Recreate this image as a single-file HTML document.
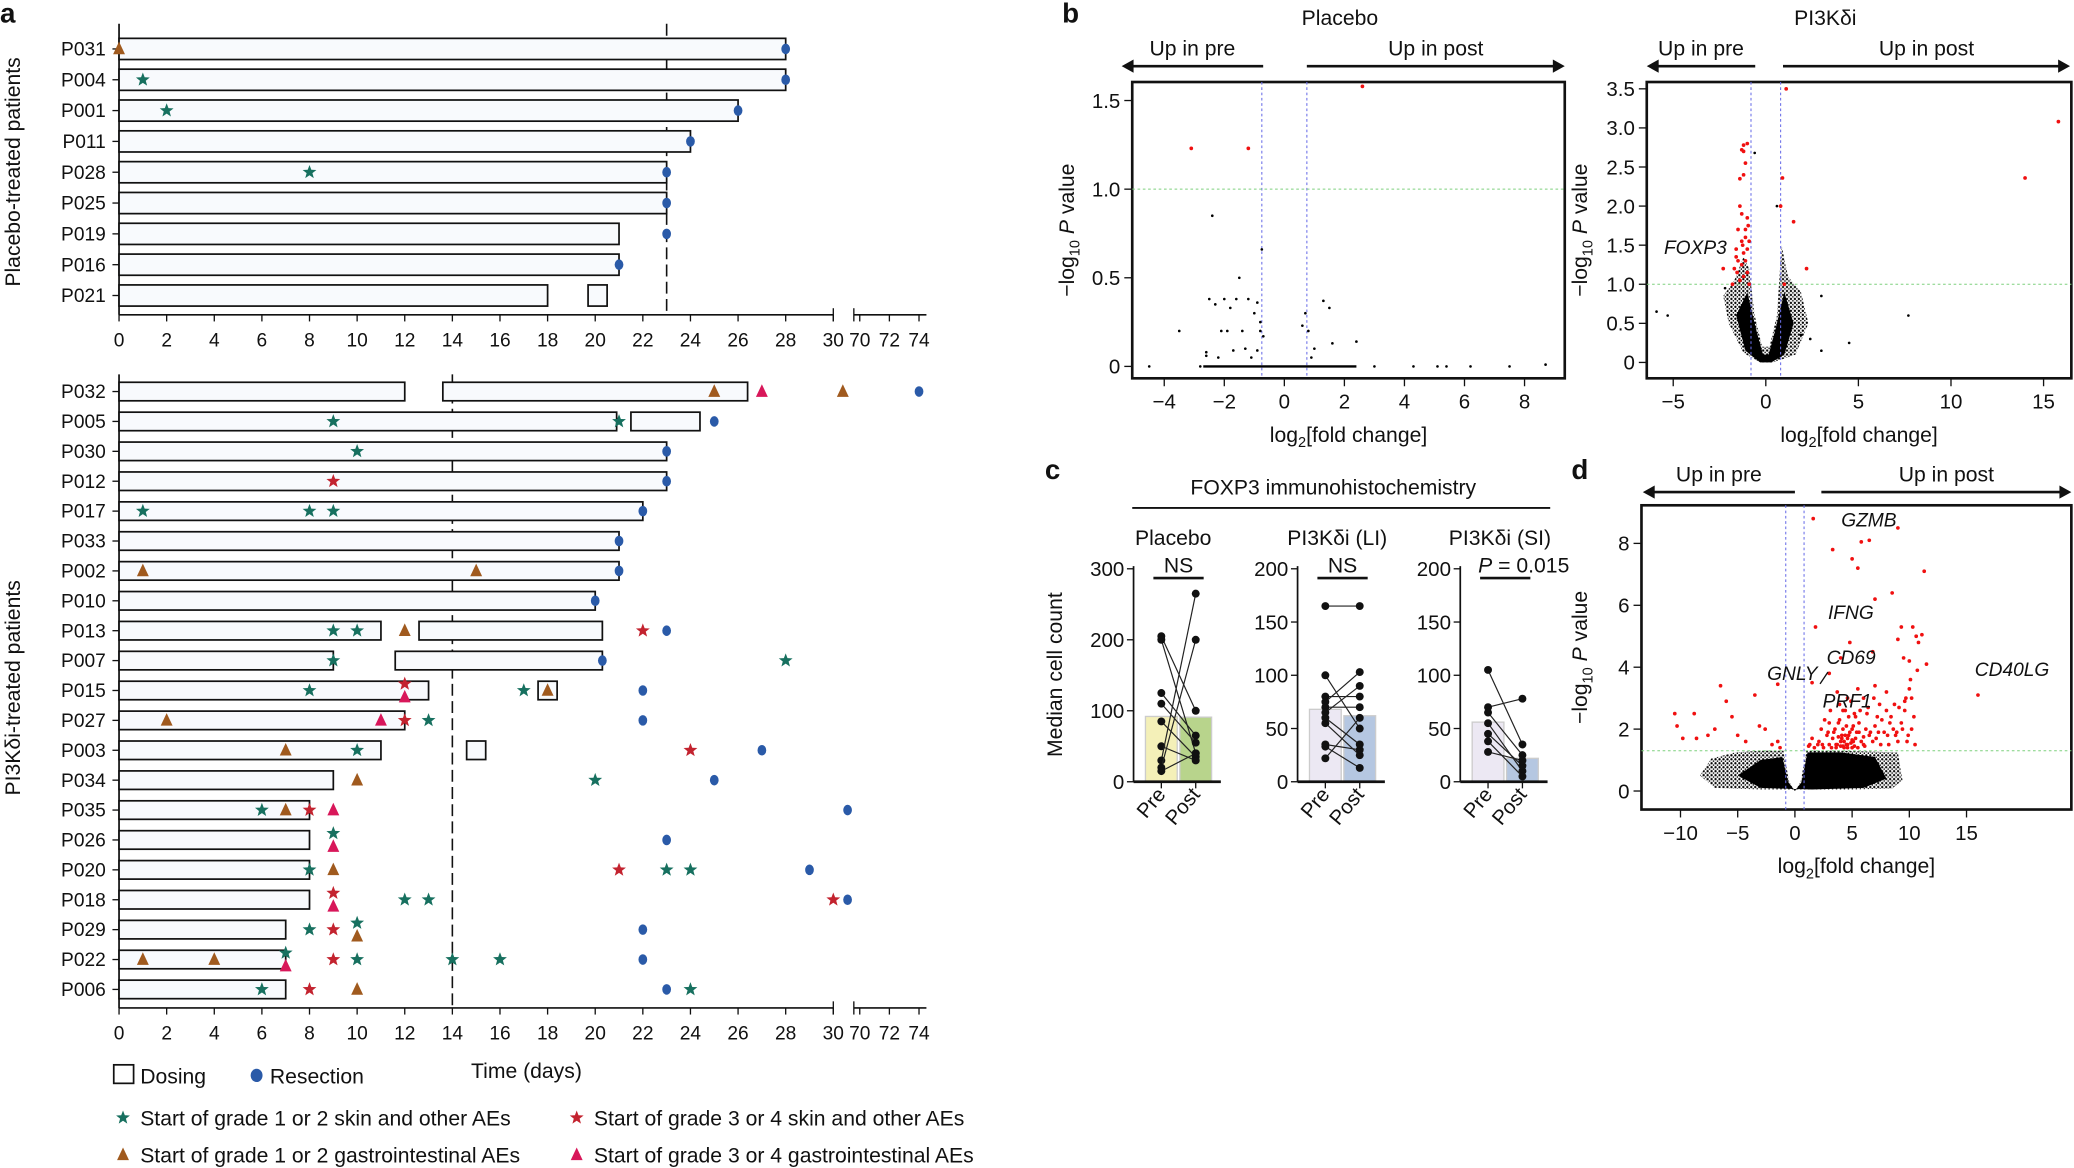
<!DOCTYPE html>
<html><head><meta charset="utf-8"><style>
html,body{margin:0;padding:0;background:#fff;}
svg{display:block;font-family:"Liberation Sans",sans-serif;}
text{fill:#111;}
</style></head><body>
<svg id="fig" width="2074" height="1168" viewBox="0 0 1568 883" preserveAspectRatio="none" xmlns="http://www.w3.org/2000/svg">
<defs>
<pattern id="speck" width="3" height="3" patternUnits="userSpaceOnUse">
<rect width="3" height="3" fill="#fff"/>
<circle cx="1" cy="1" r="0.9" fill="#000"/>
<circle cx="2.5" cy="2.4" r="0.6" fill="#000"/>
</pattern>
</defs>
<g id="static">
<text x="0" y="17" font-size="21" font-weight="bold">a</text>
<text x="803" y="17" font-size="21" font-weight="bold">b</text>
<text x="790" y="362" font-size="21" font-weight="bold">c</text>
<text x="1188" y="362" font-size="21" font-weight="bold">d</text>
<text transform="translate(15,130) rotate(-90)" text-anchor="middle" font-size="16">Placebo-treated patients</text>
<text transform="translate(15,520) rotate(-90)" text-anchor="middle" font-size="16">PI3Kδi-treated patients</text>
<text x="398" y="815" text-anchor="middle" font-size="16">Time (days)</text>
</g>
<g id="dyn"></g>
</svg>
<script>
// ---------- Panel a data ----------
const topPatients = ['P031','P004','P001','P011','P028','P025','P019','P016','P021'];
const topBars = [[[0,28]],[[0,28]],[[0,26]],[[0,24]],[[0,23]],[[0,23]],[[0,21]],[[0,21]],[[0,18],[19.7,20.5]]];
const topEvents = [[['g12gi',0,0]],[['g12skin',1,0]],[['g12skin',2,0]],[],[['g12skin',8,0]],[],[],[],[]];
const topResection = [28,28,26,24,23,23,23,21,null];
const botPatients = ['P032','P005','P030','P012','P017','P033','P002','P010','P013','P007','P015','P027','P003','P034','P035','P026','P020','P018','P029','P022','P006'];
const botRed = ['P032','P015','P003'];
const botBars = [[[0,12],[13.6,26.4]],[[0,20.9],[21.5,24.4]],[[0,23]],[[0,23]],[[0,22]],[[0,21]],[[0,21]],[[0,20]],[[0,11],[12.6,20.3]],[[0,9],[11.6,20.3]],[[0,13],[17.6,18.4]],[[0,12]],[[0,11],[14.6,15.4]],[[0,9]],[[0,8]],[[0,8]],[[0,8]],[[0,8]],[[0,7]],[[0,7]],[[0,7]]];
const botEvents = [
 [['g12gi',25,0],['g34gi',27,0],['g12gi',30.4,0]],
 [['g12skin',9,0],['g12skin',21,0]],
 [['g12skin',10,0]],
 [['g34skin',9,0]],
 [['g12skin',1,0],['g12skin',8,0],['g12skin',9,0]],
 [],
 [['g12gi',1,0],['g12gi',15,0]],
 [],
 [['g12skin',9,0],['g12skin',10,0],['g12gi',12,0],['g34skin',22,0]],
 [['g12skin',9,0],['g12skin',28,0]],
 [['g12skin',8,0],['g34skin',12,-1],['g34gi',12,1],['g12skin',17,0],['g12gi',18,0]],
 [['g12gi',2,0],['g34gi',11,0],['g34skin',12,0],['g12skin',13,0]],
 [['g12gi',7,0],['g12skin',10,0],['g34skin',24,0]],
 [['g12gi',10,0],['g12skin',20,0]],
 [['g12skin',6,0],['g12gi',7,0],['g34skin',8,0],['g34gi',9,0]],
 [['g12skin',9,-1],['g34gi',9,1]],
 [['g12skin',8,0],['g12gi',9,0],['g34skin',21,0],['g12skin',23,0],['g12skin',24,0]],
 [['g34skin',9,-1],['g34gi',9,1],['g12skin',12,0],['g12skin',13,0],['g34skin',30,0]],
 [['g12skin',8,0],['g34skin',9,0],['g12skin',10,-1],['g12gi',10,1]],
 [['g12gi',1,0],['g12gi',4,0],['g12skin',7,-1],['g34gi',7,1],['g34skin',9,0],['g12skin',10,0],['g12skin',14,0],['g12skin',16,0]],
 [['g12skin',6,0],['g34skin',8,0],['g12gi',10,0],['g12skin',24,0]]
];
const botResection = [74,25,23,23,22,21,21,20,23,20.3,22,22,27,25,30.6,23,29,30.6,22,22,23];
const xTicksA = [0,2,4,6,8,10,12,14,16,18,20,22,24,26,28,30];
const xTicksB = [70,72,74];
// ---------- Panel b data ----------
const plX = [-3.1,-1.2,2.6];
const plY = [1.23,1.23,1.58];
const plBlackX = [-4.5,-3.5,-2.4,-0.75,-1.5,-2.5,-2.3,-2.0,-1.8,-1.6,-1.2,-0.9,-0.8,-1.0,-1.4,-2.1,-2.6,-0.7,0.7,0.8,1.3,1.5,0.6,1.0,1.6,2.4,-1.3,-1.7,-2.2,-2.6,-0.8,-1.1,3.0,4.3,5.1,5.4,6.2,7.5,8.7,-1.9,-0.9,0.9,-2.8];
const plBlackY = [0,0.2,0.85,0.66,0.5,0.38,0.35,0.38,0.33,0.38,0.38,0.36,0.25,0.3,0.2,0.2,0.08,0.17,0.3,0.2,0.37,0.33,0.23,0.1,0.13,0.14,0.1,0.09,0.05,0.06,0.2,0.05,0,0,0,0,0,0,0.01,0.2,0.09,0.05,0];
const piX = [1.1,15.8,14.0,0.9,0.8,1.5,2.2,1.0,-1.2,-1.0,-1.3,-1.1,-1.2,-1.4,-1.3,-1.0,-1.5,-1.1,-1.3,-1.6,-1.2,-0.9,-1.5,-1.1,-1.7,-2.3,-1.2,-1.0,-1.4,-0.9,-1.8,-1.3,-1.1,-1.6,-1.0,-1.4,-1.2,-0.95,-1.55,-1.25];
const piY = [3.5,3.08,2.36,2.36,2.0,1.8,1.2,1.0,2.78,2.8,2.72,2.55,2.4,2.0,1.9,1.85,1.7,1.6,1.55,1.45,1.4,1.55,1.3,1.3,1.2,1.2,1.1,1.15,1.05,1.0,1.0,1.25,1.7,1.35,1.45,2.35,2.7,1.75,1.15,1.5];
const piCloudX = [-0.3,-1.2,-2.0,-2.3,-1.7,-1.2,-0.9,-0.6,-0.2,0.2,0.6,0.85,1.2,1.9,2.3,1.6,0.4];
const piCloudY = [0,0.12,0.5,0.85,1.05,1.35,1.2,0.6,0.2,0.2,0.6,1.5,1.1,0.9,0.5,0.1,0];
const piCoreX = [-0.3,-1.1,-1.6,-1.0,-0.5,-0.15,0.15,0.5,1.0,1.5,1.0,0.3];
const piCoreY = [0,0.15,0.6,0.9,0.4,0.1,0.1,0.4,0.9,0.5,0.1,0];
const piBlackX = [-5.9,-5.3,3.0,7.7,4.5,3.0,-0.6,0.6,-2.2,2.4,1.9];
const piBlackY = [0.65,0.6,0.85,0.6,0.25,0.15,2.68,2.0,0.95,0.3,0.35];
// ---------- Panel c data ----------
const cGroups = ['Placebo','PI3Kδi (LI)','PI3Kδi (SI)'];
const cMax = [300,200,200];
const cTicks = [[0,100,200,300],[0,50,100,150,200],[0,50,100,150,200]];
const cBarPre = [92,68,56];
const cBarPost = [91,62,22];
const cSig = ['NS','NS','P = 0.015'];
const cPre = [[205,200,125,110,85,50,30,20,15],[165,100,80,75,70,65,55,35,33,22,60],[105,70,65,55,45,38,28]];
const cPost = [[100,40,65,55,35,30,265,200,40],[165,50,80,103,70,90,25,30,13,60,35],[35,78,25,10,15,5,20]];
// ---------- Panel d data ----------
const dX = [1.6,9,6.5,5.8,3.3,5,11.3,5.5,8.5,7,1.8,9.3,10.3,10.6,10.8,11.1,4.8,6.8,9,4,9.5,10,11.5,16,1.5,-1.5,-6.5,-3.5,-6,-10.5,-8.8,-10.3,-5.5,-7,-7.6,-9.8,-8.6,-3.1,-2.6,-4.3,-5,-1.5,-1.3,-2,3,3.7,4.6,5.5,6,7,8,8.7,10,10.2,4.2,5.2,6.4,7.2,8,9.6,3.8,4.5,5,5.6,6.2,7,7.8,8.6,9.3,10.2,2.3,2.8,3.3,4,4.6,5.3,6,6.8,7.5,8.2,9,9.8,1.5,2,3,3.6,4.3,5,1.2,10.5,4.4,4.8,5.1,4.1,3.9,4.7,5.4,4.5,4.2,3.5,6.5,7.3,8.8,9.6,2.6,3.1,
 3.2,3.6,4.0,4.3,4.6,4.9,5.2,5.5,5.8,6.1,3.4,3.8,4.2,4.7,5.1,5.6,6.0,6.6,7.1,7.6,8.1,8.4,8.9,9.4,9.9,10.4,2.1,2.5,2.9,1.3,1.7,4.4,4.9,5.3,3.9,4.6,5.0,4.1,3.7,6.3,7.4,8.3,9.1,9.7,10.1,10.7,2.4,3.0,5.7,6.9];
const dY = [8.8,8.5,8.1,8.05,7.8,7.5,7.1,7.2,6.4,6.2,5.3,5.3,5.3,5.0,4.8,5.05,4.8,4.5,4.9,4.3,4.3,4.2,4.1,3.1,3.5,3.45,3.4,3.1,2.9,2.5,2.5,2.1,2.4,2.0,1.8,1.7,1.7,2.1,2,1.6,1.8,1.6,1.4,1.5,3.8,3.2,3.0,3.3,3.0,3.4,3.2,2.8,3.3,3.0,2.6,2.5,2.7,2.4,2.6,2.6,2.2,2.1,2.0,2.2,2.0,2.1,1.9,2.0,2.2,2.0,2.0,1.8,1.7,1.6,1.5,1.7,1.5,1.6,1.5,1.5,1.6,1.6,1.7,1.5,1.5,1.4,1.4,1.4,1.45,1.5,1.8,1.9,1.6,1.7,2.3,2.4,1.9,1.5,1.45,2.0,1.8,1.9,1.8,2.9,2.3,2.6,
 1.4,1.5,1.45,1.6,1.4,1.55,1.45,1.4,1.6,1.45,1.9,1.75,2.0,1.8,2.1,1.9,1.75,1.9,1.7,2.3,1.8,2.4,1.9,2.0,1.8,2.4,1.6,1.4,1.9,1.5,1.4,2.6,2.9,2.4,2.8,1.7,1.65,1.8,1.5,2.5,2.8,2.2,2.7,3.0,3.6,3.9,1.5,2.2,2.6,3.0];
const dCloudX = [-8.3,-7.3,-5.2,-3,-1,-0.5,0,0.5,1,4,9,9.4,8.5,5,-3,-7];
const dCloudY = [0.5,1.05,1.25,1.3,1.3,0.3,0,0.3,1.3,1.3,1.25,0.35,0.08,0.05,0.05,0.1];
const dCoreX = [-5,-3,-1.1,-0.6,0,0.6,1.1,4,7,8,6,1.5,-3];
const dCoreY = [0.5,1.0,1.1,0.3,0,0.3,1.25,1.25,1.1,0.4,0.1,0.05,0.1];

const NS='http://www.w3.org/2000/svg';
const root=document.getElementById('dyn');
function mk(tag,attrs,parent){const e=document.createElementNS(NS,tag);for(const k in attrs)e.setAttribute(k,attrs[k]);(parent||root).appendChild(e);return e;}
function txt(x,y,s,size,extra,parent){const e=mk('text',Object.assign({x:x,y:y,'font-size':size},extra||{}),parent);e.textContent=s;return e;}
function starPts(cx,cy,r){let p=[];for(let i=0;i<10;i++){const a=-Math.PI/2+i*Math.PI/5;const rr=i%2?r*0.42:r;p.push((cx+rr*Math.cos(a)).toFixed(2)+','+(cy+rr*Math.sin(a)).toFixed(2));}return p.join(' ');}
const COL={g12skin:'#17705f',g34skin:'#c3232f',g12gi:'#a05a1e',g34gi:'#d8175a',res:'#2a5aa8'};
function marker(type,x,y){
 let e;
 if(type==='g12skin'||type==='g34skin'){e=mk('polygon',{points:starPts(x,y,5.5),fill:COL[type]});}
 else if(type==='g12gi'||type==='g34gi'){e=mk('polygon',{points:`${x},${y-5.5} ${x-4.5},${y+4} ${x+4.5},${y+4}`,fill:COL[type]});}
 else {e=mk('ellipse',{cx:x,cy:y,rx:3.3,ry:4,fill:COL.res});}
 return e;
}
// ---------- Panel a ----------
function xA(d){return d<=31?90+d*18:650+(d-70)*11.2;}
function drawA(patients,bars,events,res,y0,dy,barH,axisTop,axisY,dashDay,redList){
 mk('line',{x1:90,y1:axisTop,x2:90,y2:axisY,stroke:'#111','stroke-width':1.3});
 const dl=mk('line',{x1:xA(dashDay),y1:axisTop,x2:xA(dashDay),y2:axisY,stroke:'#111','stroke-width':1.2,'stroke-dasharray':'9,4'});
 
 
 patients.forEach((p,i)=>{
  const y=y0+i*dy;
  const lab=txt(80,y+5,p,14.5,{'text-anchor':'end',fill:redList.includes(p)?'#c0272d':'#111'});
  
  
  mk('line',{x1:85,y1:y,x2:90,y2:y,stroke:'#111'});
  bars[i].forEach(b=>{
   const r=mk('rect',{x:xA(b[0]),y:y-barH/2,width:xA(b[1])-xA(b[0]),height:barH,fill:'#f8fafd',stroke:'#111','stroke-width':1.3});
   
   
  });
  if(res[i]!==null){const m=marker('res',xA(res[i]),y);
   
   }
  events[i].forEach(ev=>{const m=marker(ev[0],xA(ev[1]),y+ev[2]*5);
   
   });
 });
 mk('line',{x1:90,y1:axisY,x2:xA(30),y2:axisY,stroke:'#111','stroke-width':1.3});
 mk('line',{x1:xA(30),y1:axisY-5,x2:xA(30),y2:axisY+5,stroke:'#111'});
 mk('line',{x1:xA(69.6),y1:axisY,x2:xA(74.5),y2:axisY,stroke:'#111','stroke-width':1.3});
 mk('line',{x1:xA(69.6),y1:axisY-5,x2:xA(69.6),y2:axisY+5,stroke:'#111'});
 xTicksA.concat(xTicksB).forEach(t=>{
  mk('line',{x1:xA(t),y1:axisY,x2:xA(t),y2:axisY+5,stroke:'#111'});
  const tl=txt(xA(t),axisY+24,String(t),14.5,{'text-anchor':'middle'});
  
  
 });
}
drawA(topPatients,topBars,topEvents,topResection,37,23.3,16,18,238,23,[]);
drawA(botPatients,botBars,botEvents,botResection,296,22.6,14,283,762,14,botRed);
// legend
const lg=mk('g',{});


mk('rect',{x:86,y:805,width:15,height:14,fill:'#fff',stroke:'#111','stroke-width':1.3},lg);
txt(106,819,'Dosing',16,{},lg);
mk('ellipse',{cx:194,cy:813,rx:4.5,ry:5,fill:COL.res},lg);
txt(204,819,'Resection',16,{},lg);
[['g12skin',93,845,'Start of grade 1 or 2 skin and other AEs'],['g34skin',436,845,'Start of grade 3 or 4 skin and other AEs'],['g12gi',93,873,'Start of grade 1 or 2 gastrointestinal AEs'],['g34gi',436,873,'Start of grade 3 or 4 gastrointestinal AEs']].forEach(l=>{
 const m=marker(l[0],l[1],l[2]);lg.appendChild(m);
 txt(l[1]+13,l[2]+6,l[3],16,{},lg);
});
// ---------- Volcano helper ----------
function arrows(x1,x2,x3,x4,y,ty){
 mk('line',{x1:x1+6,y1:y,x2:x2,y2:y,stroke:'#111','stroke-width':2});
 mk('polygon',{points:`${x1},${y} ${x1+9},${y-5} ${x1+9},${y+5}`,fill:'#111'});
 mk('line',{x1:x3,y1:y,x2:x4-6,y2:y,stroke:'#111','stroke-width':2});
 mk('polygon',{points:`${x4},${y} ${x4-9},${y-5} ${x4-9},${y+5}`,fill:'#111'});
 const a=txt((x1+x2)/2,ty,'Up in pre',16,{'text-anchor':'middle'});
 
 
 const b=txt((x3+x4)/2,ty,'Up in post',16,{'text-anchor':'middle'});
 
 
}
function volcano(o){
 const sx=v=>o.x0+v*o.kx, sy=v=>o.y0-v*o.ky;
 const f=mk('rect',{x:o.L,y:o.T,width:o.R-o.L,height:o.B-o.T,fill:'none',stroke:'#111','stroke-width':2});
 
 
 if(o.cx){const pts=o.cx.map((x,i)=>sx(x)+','+sy(o.cy[i])).join(' ');
  const c=mk('polygon',{points:pts,fill:'url(#speck)'});
  
  }
 if(o.kxs){const pts=o.kxs.map((x,i)=>sx(x)+','+sy(o.kys[i])).join(' ');
  const c=mk('polygon',{points:pts,fill:'#000'});
  
  }
 o.vl.forEach(v=>mk('line',{x1:sx(v),y1:o.T,x2:sx(v),y2:o.B,stroke:'#6a6ee8','stroke-width':0.8,'stroke-dasharray':'2,2'}));
 mk('line',{x1:o.L,y1:sy(o.hl),x2:o.R,y2:sy(o.hl),stroke:'#7ed07e','stroke-width':0.8,'stroke-dasharray':'2,2'});
 if(o.bx)o.bx.forEach((x,i)=>{const p=mk('circle',{cx:sx(x),cy:sy(o.by[i]),r:1,fill:'#000'});
  
  });
 o.rx.forEach((x,i)=>{const p=mk('circle',{cx:sx(x),cy:sy(o.ry[i]),r:1.4,fill:'#f01010'});
  
  });
 o.xt.forEach(t=>{mk('line',{x1:sx(t),y1:o.B,x2:sx(t),y2:o.B+6,stroke:'#111'});
  const l=txt(sx(t),o.B+23,(t<0?'−':'')+Math.abs(t),15.5,{'text-anchor':'middle'});
  
  });
 o.yt.forEach(t=>{mk('line',{x1:o.L-6,y1:sy(t),x2:o.L,y2:sy(t),stroke:'#111'});
  const l=txt(o.L-9,sy(t)+5.5,t===0?'0':t.toFixed(o.dec),15.5,{'text-anchor':'end'});
  
  });
 const xl=mk('text',{x:(o.L+o.R)/2,y:o.B+48,'font-size':16,'text-anchor':'middle'});
 xl.innerHTML='log<tspan font-size="11" dy="4">2</tspan><tspan dy="-4">[fold change]</tspan>';
 
 
 const yl=mk('text',{transform:`translate(${o.ylx},${(o.T+o.B)/2}) rotate(-90)`,'font-size':16,'text-anchor':'middle'});
 yl.innerHTML='−log<tspan font-size="11" dy="4">10</tspan><tspan dy="-4"> </tspan><tspan font-style="italic">P</tspan> value';
 
 
}
// b placebo
txt(1013,19,'Placebo',16,{'text-anchor':'middle'});
arrows(848,955,988,1183,50,42);
volcano({name:'placebo-volcano',L:856,R:1183,T:62,B:286,x0:971,kx:22.7,y0:277,ky:134,vl:[-0.75,0.75],hl:1,bx:plBlackX,by:plBlackY,rx:plX,ry:plY,xt:[-4,-2,0,2,4,6,8],yt:[0,0.5,1,1.5],dec:1,ylx:812});
mk('line',{x1:971+(-2.7)*22.7,y1:277,x2:971+2.4*22.7,y2:277,stroke:'#000','stroke-width':1.8});
// b PI3K
txt(1380,19,'PI3Kδi',16,{'text-anchor':'middle'});
arrows(1245,1327,1348,1565,50,42);
volcano({name:'pi3k-volcano',L:1245,R:1566,T:62,B:286,x0:1335,kx:14,y0:274,ky:59.1,vl:[-0.8,0.8],hl:1,cx:piCloudX,cy:piCloudY,kxs:piCoreX,kys:piCoreY,bx:piBlackX,by:piBlackY,rx:piX,ry:piY,xt:[-5,0,5,10,15],yt:[0,0.5,1,1.5,2,2.5,3,3.5],dec:1,ylx:1200});
txt(1258,192,'FOXP3',14.5,{'font-style':'italic'});
// ---------- Panel c ----------
txt(1008,374,'FOXP3 immunohistochemistry',16,{'text-anchor':'middle'});
mk('line',{x1:856,y1:384,x2:1172,y2:384,stroke:'#111','stroke-width':1.5});
const yt=mk('text',{transform:'translate(803,510) rotate(-90)','font-size':16,'text-anchor':'middle'});
yt.textContent='Median cell count';


const cAx=[857,981,1104];
const cPreCol=['#f4f0b8','#ece8f3','#ece8f3'], cPostCol=['#b8d48c','#b5c7e1','#b5c7e1'];
cGroups.forEach((g,gi)=>{
 const ax=cAx[gi], Y0=591, H=161, sy=v=>Y0-v/cMax[gi]*H;
 const px=ax+21, qx=ax+47;
 const t=txt(ax+30,412,g,16,{'text-anchor':'middle'});
 
 
 const b1=mk('rect',{x:px-12,y:sy(cBarPre[gi]),width:24,height:Y0-sy(cBarPre[gi]),fill:cPreCol[gi],stroke:'#ccc','stroke-width':1});
 
 
 const b2=mk('rect',{x:qx-12,y:sy(cBarPost[gi]),width:24,height:Y0-sy(cBarPost[gi]),fill:cPostCol[gi],stroke:'#ccc','stroke-width':1});
 
 
 cPre[gi].forEach((v,i)=>{
  mk('line',{x1:px,y1:sy(v),x2:qx,y2:sy(cPost[gi][i]),stroke:'#222','stroke-width':0.9});
  const a=mk('circle',{cx:px,cy:sy(v),r:3,fill:'#111'});
  
  
  const b=mk('circle',{cx:qx,cy:sy(cPost[gi][i]),r:3,fill:'#111'});
  
  
 });
 mk('line',{x1:ax,y1:Y0-H-2,x2:ax,y2:Y0,stroke:'#111','stroke-width':1.3});
 mk('line',{x1:ax,y1:Y0,x2:ax+66,y2:Y0,stroke:'#111','stroke-width':2});
 cTicks[gi].forEach(v=>{mk('line',{x1:ax-5,y1:sy(v),x2:ax,y2:sy(v),stroke:'#111'});
  const l=txt(ax-7,sy(v)+5.5,String(v),15.5,{'text-anchor':'end'});
  
  });
 [[px,'Pre'],[qx,'Post']].forEach(pp=>{mk('line',{x1:pp[0],y1:Y0,x2:pp[0],y2:Y0+5,stroke:'#111'});
  txt(0,0,pp[1],15.5,{'text-anchor':'end',transform:`translate(${pp[0]+4},${Y0+10}) rotate(-50)`});});
 mk('line',{x1:px-6,y1:437,x2:qx+6,y2:437,stroke:'#111','stroke-width':2});
 const s=mk('text',{x:gi===2?ax+48:(px+qx)/2,y:433,'font-size':16,'text-anchor':'middle'});
 if(gi===2)s.innerHTML='<tspan font-style="italic">P</tspan> = 0.015';else s.textContent=cSig[gi];
 
 
});
// ---------- Panel d ----------
arrows(1242,1357,1377,1566,372,364);
volcano({name:'d-volcano',L:1241,R:1566,T:382,B:612,x0:1357,kx:8.65,y0:598,ky:23.4,vl:[-0.8,0.8],hl:1.3,cx:dCloudX,cy:dCloudY,kxs:dCoreX,kys:dCoreY,rx:dX,ry:dY,xt:[-10,-5,0,5,10,15],yt:[0,2,4,6,8],dec:0,ylx:1200});
[['GZMB',1392,398],['IFNG',1382,468],['CD69',1381,502],['GNLY',1336,514],['PRF1',1378,535],['CD40LG',1493,511]].forEach(l=>{
 const e=txt(l[1],l[2],l[0],14.5,{'font-style':'italic'});
 
 
});
mk('line',{x1:1382,y1:508,x2:1376,y2:517,stroke:'#111'});
</script>
</body></html>
